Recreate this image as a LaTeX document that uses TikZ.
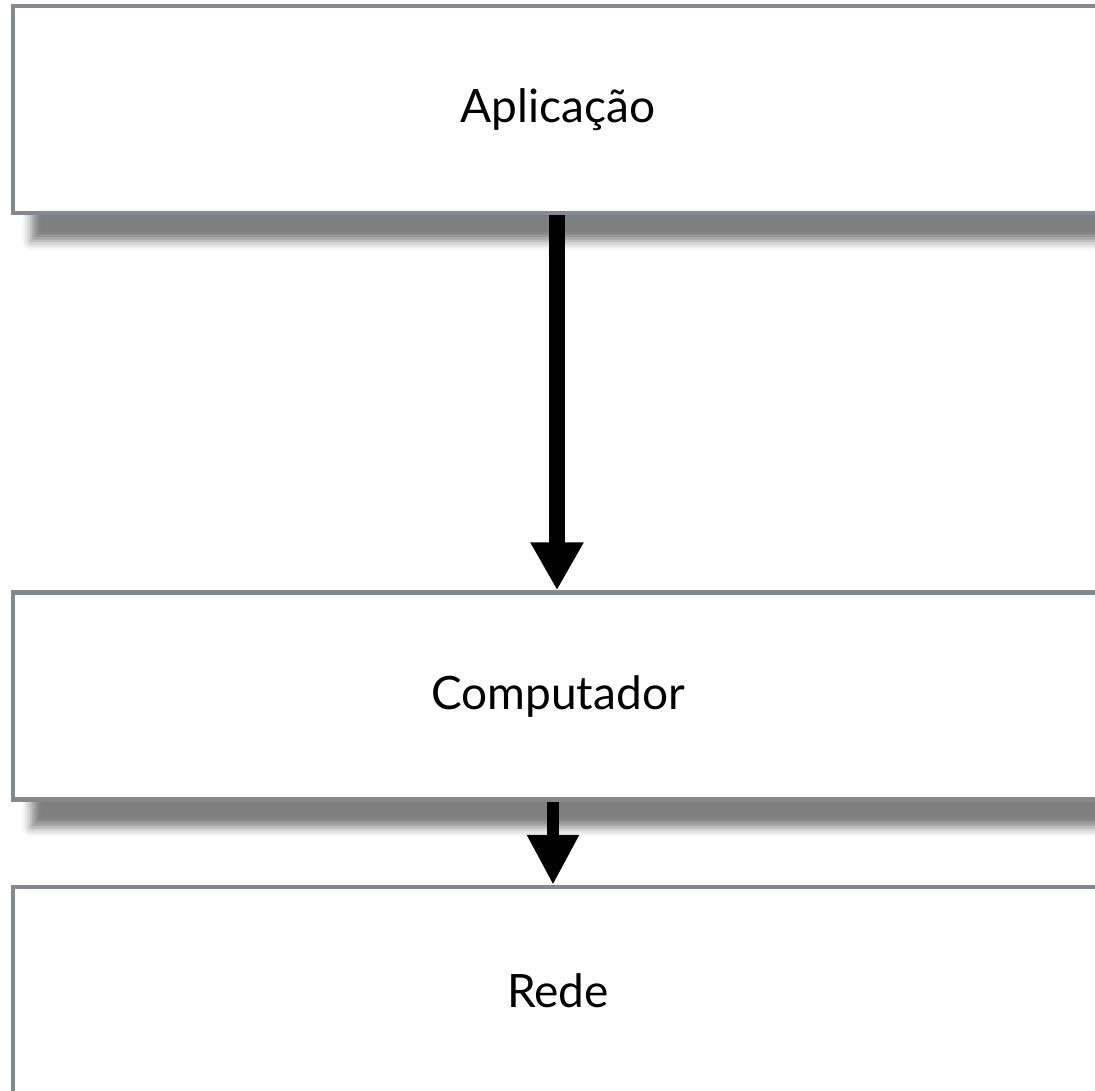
\documentclass[tikz,border=0pt]{standalone}
\usepackage{fontspec}
\setmainfont{Lato}
\usetikzlibrary{arrows.meta,shadows.blur}

\definecolor{boxgray}{RGB}{133,136,140}

\tikzset{
  layer/.style={draw=boxgray, line width=2.25pt, fill=white,
    minimum width=545pt, minimum height=103.5pt,
    font=\fontsize{23}{27}\selectfont,
    blur shadow={shadow xshift=9pt, shadow yshift=-14pt,
      shadow blur radius=4.5pt, shadow opacity=50}},
  bigflow/.style={line width=8pt, -{Triangle[width=25pt,length=24pt]}},
  smallflow/.style={line width=6pt, -{Triangle[width=24.5pt,length=25pt]}}
}

\begin{document}
\begin{tikzpicture}[x=0.5pt, y=-0.5pt]

  % page frame
  \useasboundingbox (0,0) rectangle (1095,1090);
  \clip (0,0) rectangle (1095,1090);

  % layers
  \node[layer] (app)  at (558,109.5) {Aplicação};
  \node[layer] (comp) at (558,696)   {Computador};
  \node[layer] (net)  at (558,990.5) {Rede};

  % arrows between layers
  \draw[bigflow] ([xshift=-0.5pt]app.south) -- ([xshift=-0.5pt]comp.north);
  \draw[smallflow] ([xshift=-2.5pt]comp.south) -- ([xshift=-2.5pt]net.north);

\end{tikzpicture}
\end{document}
